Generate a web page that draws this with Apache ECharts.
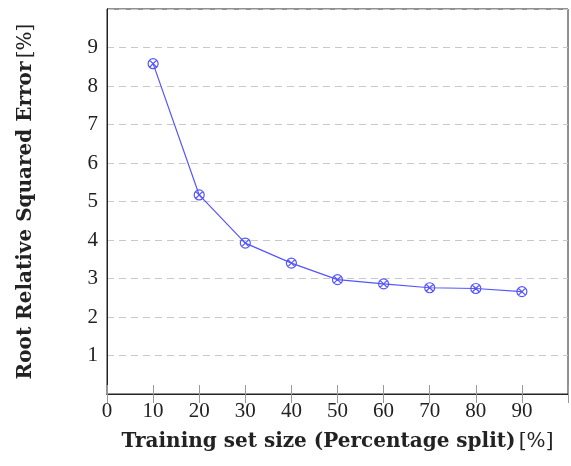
<!DOCTYPE html>
<html>
<head>
<meta charset="utf-8">
<script src="https://cdn.jsdelivr.net/npm/echarts@6/dist/echarts.min.js"></script>
<style>
  html, body { margin: 0; padding: 0; background: #fff; }
  #chart { width: 571px; height: 466px; }
</style>
</head>
<body>
<div id="chart"></div>
<script>
// training set size (%) and RRSE (%)
const splitSizes = [10, 20, 30, 40, 50, 60, 70, 80, 90];
const rrseValues = [8.58, 5.17, 3.92, 3.40, 2.97, 2.86, 2.76, 2.74, 2.66];

const font = '"Liberation Serif", "DejaVu Serif", serif';
const nameFont = '"DejaVu Serif", serif';
const lineBlue = '#5555ff';
const crossCircle = 'path://M0,-10 A10,10 0 1,1 0,10 A10,10 0 1,1 0,-10 Z M-7.07,-7.07 L7.07,7.07 M-7.07,7.07 L7.07,-7.07';

const chart = echarts.init(document.getElementById('chart'));

const tickStyle = { show: true, inside: true, length: 9, lineStyle: { color: '#999', width: 1 } };
const nameRich = {
  b: { fontFamily: nameFont, fontWeight: 'bold', fontSize: 20, color: '#222' },
  n: { fontFamily: nameFont, fontSize: 20, color: '#222' }
};

chart.setOption({
  animation: false,
  backgroundColor: '#fff',
  grid: {
    left: 107, right: 1, top: 9, bottom: 72,
    show: true, borderColor: '#222', borderWidth: 1, backgroundColor: 'transparent'
  },
  xAxis: [
    {
      type: 'value', min: 0, max: 100, interval: 10,
      position: 'bottom',
      name: '{b|Training set size (Percentage split)} {n|[%]}',
      nameLocation: 'middle', nameGap: 38,
      nameTextStyle: { rich: nameRich },
      axisLine: { show: true, lineStyle: { color: '#222', width: 1 } },
      axisTick: tickStyle,
      splitLine: { show: false },
      axisLabel: {
        fontFamily: font, fontSize: 21, color: '#222', margin: 7,
        formatter: v => (v === 100 ? '' : String(v))
      }
    },
    {
      type: 'value', min: 0, max: 100, interval: 10,
      position: 'top',
      axisLine: { show: true, lineStyle: { color: '#222', width: 1 } },
      axisTick: tickStyle,
      axisLabel: { show: false },
      splitLine: { show: false }
    }
  ],
  yAxis: [
    {
      type: 'value', min: 0, max: 10, interval: 1,
      name: '{b|Root Relative Squared Error} {n|[%]}',
      nameLocation: 'middle', nameGap: 71,
      nameTextStyle: { rich: nameRich },
      axisLine: { show: true, lineStyle: { color: '#222', width: 1 } },
      axisTick: { show: false },
      splitLine: { show: true, lineStyle: { color: '#c8c8c8', type: [7, 5], width: 1 } },
      axisLabel: {
        fontFamily: font, fontSize: 21, color: '#222', margin: 9,
        formatter: v => (v === 0 || v === 10 ? '' : String(v))
      }
    },
    {
      type: 'value', min: 0, max: 10, interval: 1,
      position: 'right',
      axisLine: { show: true, lineStyle: { color: '#222', width: 1 } },
      axisTick: { show: false },
      axisLabel: { show: false },
      splitLine: { show: false }
    }
  ],
  series: [
    {
      type: 'line',
      xAxisIndex: 0,
      yAxisIndex: 0,
      data: splitSizes.map((x, i) => [x, rrseValues[i]]),
      lineStyle: { color: lineBlue, width: 1.2 },
      symbol: crossCircle,
      symbolSize: 10,
      itemStyle: { color: 'rgba(0,0,0,0)', borderColor: lineBlue, borderWidth: 1.2 }
    }
  ]
});
</script>
</body>
</html>
